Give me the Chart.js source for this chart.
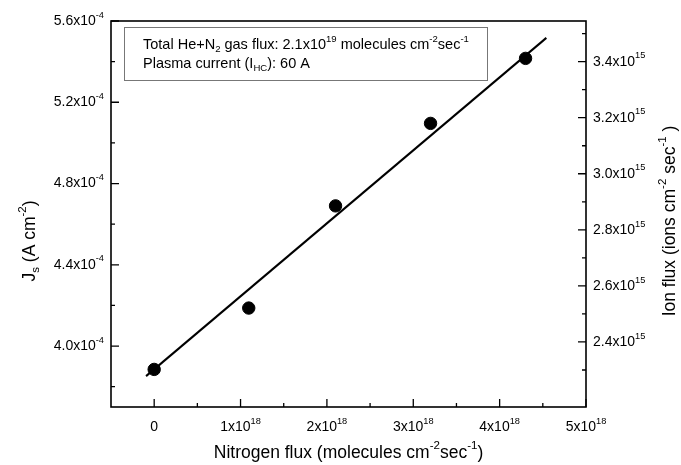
<!DOCTYPE html>
<html>
<head>
<meta charset="utf-8">
<script src="https://cdn.jsdelivr.net/npm/chart.js@4.4.0/dist/chart.umd.min.js"></script>
<style>
body { margin: 0; background: #fff; }
#wrap { width: 681px; height: 465px; }
</style>
</head>
<body>
<div id="wrap"><canvas id="myChart" width="681" height="465"></canvas></div>
<script>
// measured points (nitrogen flux vs J_s)
var nitrogenFlux = [0, 1.095e18, 2.10e18, 3.20e18, 4.30e18];
var currentDensity = [3.885e-4, 4.187e-4, 4.690e-4, 5.096e-4, 5.416e-4];

// linear fit line, end points
var fitFlux = [-0.094e18, 4.541e18];
var fitDensity = [3.852e-4, 5.517e-4];

// ticks
var xMajor = [0, 1e18, 2e18, 3e18, 4e18, 5e18];
var xMinor = [0.5e18, 1.5e18, 2.5e18, 3.5e18, 4.5e18];
var yMajor = [4.0e-4, 4.4e-4, 4.8e-4, 5.2e-4, 5.6e-4];
var yMinor = [3.8e-4, 4.2e-4, 4.6e-4, 5.0e-4, 5.4e-4];
var ionMajor = [2.4e15, 2.6e15, 2.8e15, 3.0e15, 3.2e15, 3.4e15];
var ionMinor = [2.3e15, 2.5e15, 2.7e15, 2.9e15, 3.1e15, 3.3e15, 3.5e15];

var FONT = '"Liberation Sans", Arial, sans-serif';

function toPoints(xs, ys) {
    var out = [];
    for (var i = 0; i < xs.length; i++) out.push({ x: xs[i], y: ys[i] });
    return out;
}

// parts: [[text, 'sup'|'sub'|undefined], ...]
function richWidth(ctx, parts, size) {
    var w = 0;
    parts.forEach(function (p) {
        ctx.font = (p[1] ? size * 0.66 : size) + 'px ' + FONT;
        w += ctx.measureText(p[0]).width;
    });
    return w;
}

function drawRich(ctx, parts, x, y, size, align) {
    var w = richWidth(ctx, parts, size);
    var cx = align === 'right' ? x - w : (align === 'center' ? x - w / 2 : x);
    ctx.textBaseline = 'middle';
    ctx.textAlign = 'left';
    parts.forEach(function (p) {
        ctx.font = (p[1] ? size * 0.66 : size) + 'px ' + FONT;
        var dy = p[1] === 'sup' ? -size * 0.42 : (p[1] === 'sub' ? size * 0.32 : 0);
        ctx.fillText(p[0], cx, y + dy);
        cx += ctx.measureText(p[0]).width;
    });
}

var framePlugin = {
    id: 'frame',
    afterDraw: function (chart) {
        var ctx = chart.ctx;
        var a = chart.chartArea;
        var sx = chart.scales.x, sy = chart.scales.y, s2 = chart.scales.y2;
        ctx.save();
        ctx.strokeStyle = '#000';
        ctx.fillStyle = '#000';

        // frame
        ctx.lineWidth = 1.6;
        ctx.strokeRect(a.left, a.top, a.right - a.left, a.bottom - a.top);

        // inward ticks
        ctx.lineWidth = 1.3;
        ctx.beginPath();
        xMajor.forEach(function (v) { var p = sx.getPixelForValue(v); ctx.moveTo(p, a.bottom); ctx.lineTo(p, a.bottom - 8); });
        xMinor.forEach(function (v) { var p = sx.getPixelForValue(v); ctx.moveTo(p, a.bottom); ctx.lineTo(p, a.bottom - 4); });
        yMajor.forEach(function (v) { var p = sy.getPixelForValue(v); ctx.moveTo(a.left, p); ctx.lineTo(a.left + 8, p); });
        yMinor.forEach(function (v) { var p = sy.getPixelForValue(v); ctx.moveTo(a.left, p); ctx.lineTo(a.left + 4, p); });
        ionMajor.forEach(function (v) { var p = s2.getPixelForValue(v); ctx.moveTo(a.right, p); ctx.lineTo(a.right - 8, p); });
        ionMinor.forEach(function (v) { var p = s2.getPixelForValue(v); ctx.moveTo(a.right, p); ctx.lineTo(a.right - 4, p); });
        ctx.stroke();

        // tick labels
        var ts = 14;
        xMajor.forEach(function (v) {
            var parts = v === 0 ? [['0']] : [[String(Math.round(v / 1e18)) + 'x10'], ['18', 'sup']];
            drawRich(ctx, parts, sx.getPixelForValue(v), a.bottom + 20, ts, 'center');
        });
        yMajor.forEach(function (v) {
            drawRich(ctx, [[(v / 1e-4).toFixed(1) + 'x10'], ['-4', 'sup']], a.left - 7, sy.getPixelForValue(v), ts, 'right');
        });
        ionMajor.forEach(function (v) {
            drawRich(ctx, [[(v / 1e15).toFixed(1) + 'x10'], ['15', 'sup']], a.right + 7, s2.getPixelForValue(v), ts, 'left');
        });

        // axis titles
        var ttl = 17.5;
        drawRich(ctx, [['Nitrogen flux (molecules cm'], ['-2', 'sup'], ['sec'], ['-1', 'sup'], [')']],
            (a.left + a.right) / 2, a.bottom + 46, ttl, 'center');

        ctx.save();
        ctx.translate(30, 241);
        ctx.rotate(-Math.PI / 2);
        drawRich(ctx, [['J'], ['s', 'sub'], [' (A cm'], ['-2', 'sup'], [')']], 0, 0, ttl, 'center');
        ctx.restore();

        ctx.save();
        ctx.translate(670, 221);
        ctx.rotate(-Math.PI / 2);
        drawRich(ctx, [['Ion flux (ions cm'], ['-2', 'sup'], [' sec'], ['-1', 'sup'], [' )']], 0, 0, ttl, 'center');
        ctx.restore();

        // info box
        var bx = a.left + 13, by = a.top + 6;
        ctx.lineWidth = 1;
        ctx.strokeStyle = '#777';
        ctx.fillStyle = '#fff';
        ctx.fillRect(bx, by, 363, 53);
        ctx.strokeRect(bx + 0.5, by + 0.5, 363, 53);
        ctx.fillStyle = '#000';
        drawRich(ctx, [['Total He+N'], ['2', 'sub'], [' gas flux: 2.1x10'], ['19', 'sup'], [' molecules cm'], ['-2', 'sup'], ['sec'], ['-1', 'sup']],
            bx + 19, by + 18, 14.5, 'left');
        drawRich(ctx, [['Plasma current (I'], ['HC', 'sub'], ['): 60 A']], bx + 19, by + 37, 14.5, 'left');

        ctx.restore();
    }
};

function createChart() {
    var ctx = document.getElementById('myChart').getContext('2d');
    new Chart(ctx, {
        type: 'scatter',
        data: {
            datasets: [{
                label: 'Measured',
                data: toPoints(nitrogenFlux, currentDensity),
                backgroundColor: '#000',
                borderColor: '#000',
                pointRadius: 6.2,
                pointHoverRadius: 6.2
            }, {
                label: 'Fit',
                data: toPoints(fitFlux, fitDensity),
                showLine: true,
                borderColor: '#000',
                borderWidth: 2,
                pointRadius: 0,
                fill: false
            }]
        },
        options: {
            responsive: false,
            animation: false,
            events: [],
            layout: { padding: { left: 111, right: 95, top: 21, bottom: 58 } },
            plugins: { legend: { display: false }, tooltip: { enabled: false } },
            scales: {
                x: {
                    type: 'linear', min: -0.5e18, max: 5e18,
                    display: false,
                    afterFit: function (s) { s.height = 0; }
                },
                y: {
                    type: 'linear', position: 'left', min: 3.7e-4, max: 5.6e-4,
                    display: false,
                    afterFit: function (s) { s.width = 0; }
                },
                y2: {
                    type: 'linear', position: 'right', min: 2.168e15, max: 3.545e15,
                    display: false,
                    afterFit: function (s) { s.width = 0; }
                }
            }
        },
        plugins: [framePlugin]
    });
}

createChart();
</script>
</body>
</html>
